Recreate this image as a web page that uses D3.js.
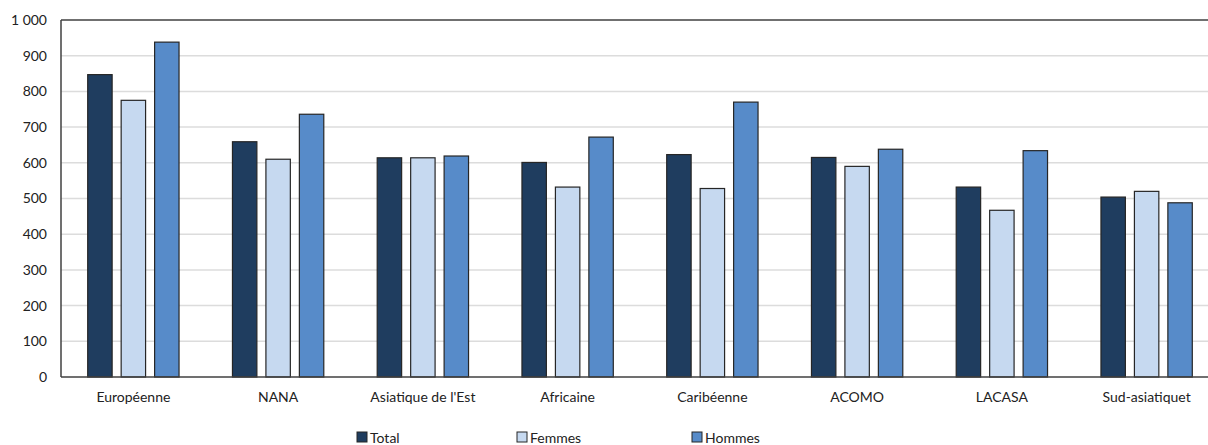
<!DOCTYPE html>
<html>
<head>
<meta charset="utf-8">
<script src="https://cdn.jsdelivr.net/npm/d3@7"></script>
<style>
  html, body { margin: 0; padding: 0; background: #fff; }
  svg { display: block; }
  text { font-family: Lato, "Open Sans", sans-serif; fill: #222; }
</style>
</head>
<body>
<svg id="chart" width="1208" height="445"></svg>
<script>
// Origin groups along the x axis
const categories = ["Européenne", "NANA", "Asiatique de l'Est", "Africaine", "Caribéenne", "ACOMO", "LACASA", "Sud-asiatiquet"];
// Series
const seriesNames = ["Total", "Femmes", "Hommes"];
const totalValues  = [847, 659, 614, 601, 623, 615, 532, 504];
const femmesValues = [775, 610, 614, 532, 528, 590, 467, 520];
const hommesValues = [938, 736, 619, 672, 770, 638, 634, 488];
// Y axis ticks
const yTicks = [0, 100, 200, 300, 400, 500, 600, 700, 800, 900, 1000];
const yTickLabels = ["0", "100", "200", "300", "400", "500", "600", "700", "800", "900", "1 000"];

const colors = { Total: "#1f3d5f", Femmes: "#c6d9f0", Hommes: "#578bc9" };

const svg = d3.select("#chart");
const plotLeft = 61, plotTop = 20, plotBottom = 377, plotRight = 1219;

const x = d3.scaleBand().domain(categories).range([plotLeft, plotRight]).paddingInner(0).paddingOuter(0);
const y = d3.scaleLinear().domain([0, 1000]).range([plotBottom, plotTop]);

const groupInner = d3.scaleBand().domain(seriesNames).range([0, 94]).paddingInner(0.27).paddingOuter(0.04);

// Horizontal gridlines
svg.append("g")
  .selectAll("line")
  .data(yTicks.filter(d => d > 0 && d < 1000))
  .join("line")
  .attr("x1", plotLeft).attr("x2", 1208)
  .attr("y1", d => y(d)).attr("y2", d => y(d))
  .attr("stroke", "#dcdcdc").attr("stroke-width", 1.5);

// Bars
const rows = categories.map((c, i) => ({
  cat: c,
  values: [
    { s: "Total", v: totalValues[i] },
    { s: "Femmes", v: femmesValues[i] },
    { s: "Hommes", v: hommesValues[i] }
  ]
}));

const groups = svg.append("g").selectAll("g")
  .data(rows).join("g")
  .attr("transform", d => `translate(${x(d.cat) + x.bandwidth() / 2 - 47},0)`);

groups.selectAll("rect")
  .data(d => d.values).join("rect")
  .attr("x", d => groupInner(d.s))
  .attr("width", groupInner.bandwidth())
  .attr("y", d => y(d.v))
  .attr("height", d => y(0) - y(d.v))
  .attr("fill", d => colors[d.s])
  .attr("stroke", "#262626").attr("stroke-width", 1.2);

// Frame: top, left and bottom lines
svg.append("line").attr("x1", plotLeft).attr("x2", 1208).attr("y1", plotTop).attr("y2", plotTop)
  .attr("stroke", "#404040").attr("stroke-width", 1.5);
svg.append("line").attr("x1", plotLeft).attr("x2", plotLeft).attr("y1", plotTop).attr("y2", plotBottom)
  .attr("stroke", "#404040").attr("stroke-width", 1.5);
svg.append("line").attr("x1", plotLeft).attr("x2", 1208).attr("y1", plotBottom).attr("y2", plotBottom)
  .attr("stroke", "#404040").attr("stroke-width", 1.5);

// Y axis labels
const yAxis = d3.axisLeft(y).tickValues(yTicks).tickSize(0).tickPadding(14)
  .tickFormat((d, i) => yTickLabels[i]);
const gy = svg.append("g").attr("transform", `translate(${plotLeft},0)`).call(yAxis);
gy.select(".domain").remove();
gy.selectAll("text").attr("font-size", 14).attr("font-family", "Lato, 'Open Sans', sans-serif").attr("fill", "#222");

// X axis labels
const xAxis = d3.axisBottom(x).tickSize(0).tickPadding(15);
const gx = svg.append("g").attr("transform", `translate(0,${plotBottom})`).call(xAxis);
gx.select(".domain").remove();
gx.selectAll("text").attr("font-size", 14).attr("font-family", "Lato, 'Open Sans', sans-serif").attr("fill", "#222");

// Legend
const legendX = [357, 517, 692];
const legend = svg.append("g").selectAll("g")
  .data(seriesNames).join("g")
  .attr("transform", (d, i) => `translate(${legendX[i]},432)`);
legend.append("rect").attr("width", 10).attr("height", 10)
  .attr("fill", d => colors[d]).attr("stroke", "#262626").attr("stroke-width", 1);
legend.append("text").attr("x", 13).attr("y", 10.5).attr("font-size", 14).text(d => d);
</script>
</body>
</html>
